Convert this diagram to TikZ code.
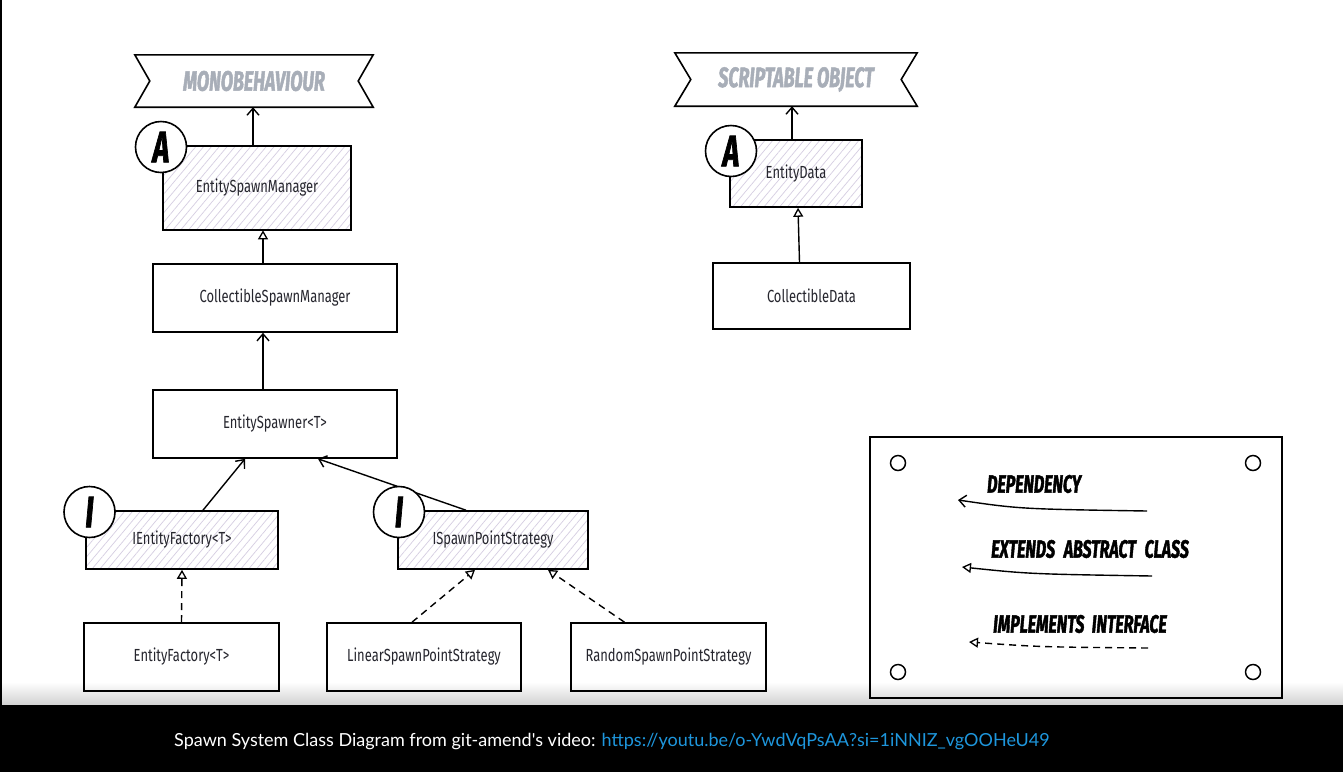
\documentclass[tikz,border=0pt]{standalone}
\usepackage{fontspec}
\setmainfont{Fira Sans}
\newfontfamily\clsfont[FakeStretch=0.74]{Fira Sans}
\newfontfamily\hdrfont[FakeStretch=0.64,FakeBold=1.6]{Fira Sans}
\newfontfamily\capfont{Lato}
\usetikzlibrary{arrows.meta,patterns.meta,calc}
\definecolor{hatchc}{HTML}{D6CEE2}
\definecolor{bannerc}{HTML}{A8AEB8}
\definecolor{textc}{HTML}{26262E}
\definecolor{urlc}{HTML}{1E96DC}
\tikzset{
 cls/.style={draw=black,line width=1.6pt,inner sep=0pt,text=textc,font=\clsfont\fontsize{17.5}{19}\selectfont},
 hatched/.style={cls,pattern={Lines[angle=50,distance=6pt,line width=0.7pt]},pattern color=hatchc},
 badge/.style={circle,draw=black,fill=white,line width=1.6pt,minimum size=51pt,inner sep=0pt,font=\hdrfont\bfseries\itshape\fontsize{44}{44}\selectfont},
 bannertext/.style={inner sep=0pt,text=bannerc,font=\hdrfont\bfseries\itshape\fontsize{28}{28}\selectfont},
 banner/.style={draw=black,line width=1.6pt},
 dep/.style={line width=1.4pt,-{Straight Barb[length=7pt,width=12pt,line width=1.4pt]}},
 ext/.style={line width=1.4pt,-{Triangle[open,length=9pt,width=10pt,line width=1.3pt]}},
 impl/.style={ext,dash pattern=on 7pt off 5pt},
 legtext/.style={anchor=west,inner sep=0pt,font=\hdrfont\bfseries\itshape\fontsize{25}{25}\selectfont},
 screw/.style={circle,draw=black,line width=1.5pt,minimum size=15pt,inner sep=0pt},
 legendbox/.style={draw=black,line width=1.7pt,inner sep=0pt},
}
\begin{document}
\begin{tikzpicture}[x=1pt,y=-1pt]
\useasboundingbox (0,0) rectangle (1343,772);
% background
\fill[white] (0,0) rectangle (1343,772);
\shade[top color=white,bottom color=black!18] (0,682) rectangle (1343,705);
\fill[black] (0,705) rectangle (1343,772);
\fill[black] (0,0) rectangle (2,705);

% banners
\node[bannertext,minimum width=238pt,minimum height=52pt] (mono) at (254,81) {MONOBEHAVIOUR};
\draw[banner] (mono.north west) -- (mono.north east) -- ([xshift=-15pt]mono.east) -- (mono.south east) -- (mono.south west) -- ([xshift=15pt]mono.west) -- cycle;
\node[bannertext,minimum width=242pt,minimum height=53pt] (so) at (796,79.5) {SCRIPTABLE OBJECT};
\draw[banner] (so.north west) -- (so.north east) -- ([xshift=-16pt]so.east) -- (so.south east) -- (so.south west) -- ([xshift=16pt]so.west) -- cycle;

% classes
\node[hatched,minimum width=188pt,minimum height=84pt] (esm) at (257,188) {EntitySpawnManager};
\node[cls,minimum width=244pt,minimum height=68pt] (csm) at (275,298) {CollectibleSpawnManager};
\node[cls,minimum width=244pt,minimum height=68pt] (es) at (275,424) {EntitySpawner<T>};
\node[hatched,minimum width=192pt,minimum height=58pt] (ief) at (182,540) {IEntityFactory<T>};
\node[hatched,minimum width=190pt,minimum height=58pt] (isps) at (493,540) {ISpawnPointStrategy};
\node[cls,minimum width=195pt,minimum height=68pt] (ef) at (181.5,657) {EntityFactory<T>};
\node[cls,minimum width=194pt,minimum height=68pt] (lsps) at (424,657) {LinearSpawnPointStrategy};
\node[cls,minimum width=195pt,minimum height=68pt] (rsps) at (668.5,657) {RandomSpawnPointStrategy};
\node[hatched,minimum width=132pt,minimum height=67pt] (ed) at (796,173.5) {EntityData};
\node[cls,minimum width=197pt,minimum height=66pt] (cd) at (811.5,296) {CollectibleData};

% connectors
\draw[dep] ([xshift=-4pt]esm.north) -- ([xshift=-1pt]mono.south);
\draw[ext] ([xshift=-12pt]csm.north) -- ([xshift=6pt]esm.south);
\draw[dep] ([xshift=-12pt]es.north) -- ([xshift=-12pt]csm.south);
\draw[dep] ([xshift=21pt]ief.north) -- ([xshift=-30pt]es.south);
\draw[dep] ([xshift=-27pt]isps.north) -- ([xshift=43pt]es.south);
\draw[impl] (ef.north) -- (ief.south);
\draw[impl] ([xshift=-12pt]lsps.north) -- ([xshift=-18pt]isps.south);
\draw[impl] ([xshift=-44pt]rsps.north) -- ([xshift=55pt]isps.south);
\draw[dep] ([xshift=-4pt]ed.north) -- ([xshift=-4pt]so.south);
\draw[ext] ([xshift=-12pt]cd.north) -- ([xshift=2pt]ed.south);

% badges
\node[badge] (bA1) at (161,147) {A};
\node[badge] (bA2) at (731,151) {A};
\node[badge] (bI1) at (89.5,512) {I};
\node[badge] (bI2) at (399,512) {I};

% legend
\node[legendbox,minimum width=412pt,minimum height=261pt] (legend) at (1076,567.5) {};
\node[screw] (s1) at (898,463) {};
\node[screw] (s2) at (1253,463) {};
\node[screw] (s3) at (898,672) {};
\node[screw] (s4) at (1253,672) {};
\node[legtext] (tdep) at (987,484) {DEPENDENCY};
\node[legtext] (text) at (991,549) {EXTENDS\hspace{0.35em}ABSTRACT\hspace{0.35em}CLASS};
\node[legtext] (timp) at (993,624) {IMPLEMENTS\hspace{0.3em}INTERFACE};
\coordinate (d1) at (1147,511);
\coordinate (d2) at (958,500);
\coordinate (e1) at (1152,576);
\coordinate (e2) at (962,567);
\coordinate (i1) at (1148,648);
\coordinate (i2) at (969,642);
\draw[dep] (d1) .. controls (1020,509) .. (d2);
\draw[ext] (e1) .. controls (1030,574) .. (e2);
\draw[impl] (i1) .. controls (1040,647) .. (i2);

% caption
\node[anchor=west,inner sep=0pt,font=\capfont\fontsize{18}{20}\selectfont] (cap) at (174,741)
 {\color{white}Spawn System Class Diagram from git-amend's video: \color{urlc}https://youtu.be/o-YwdVqPsAA?si=1iNNIZ\_vgOOHeU49};
\end{tikzpicture}
\end{document}
